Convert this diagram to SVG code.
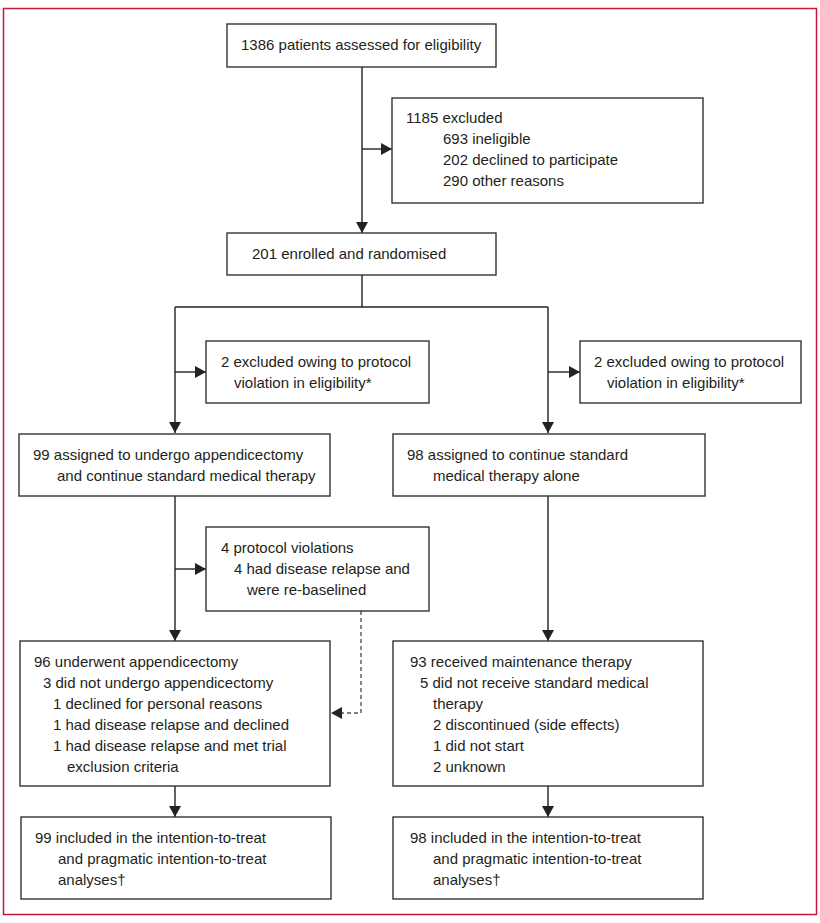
<svg xmlns="http://www.w3.org/2000/svg" width="820" height="923" viewBox="0 0 820 923">
<defs>
<style>
.box{fill:#fff;stroke:#333;stroke-width:1.4}
.t{font-family:"Liberation Sans",Arial,sans-serif;font-size:15px;fill:#231f20}
.ln{fill:none;stroke:#222;stroke-width:1.4}
.dash{fill:none;stroke:#555;stroke-width:1.4;stroke-dasharray:4 3}
</style>
<marker id="ah" viewBox="0 0 11 12" refX="11" refY="6" markerWidth="11" markerHeight="12" markerUnits="userSpaceOnUse" orient="auto">
<path d="M0,0 L11,6 L0,12 Z" fill="#222"/>
</marker>
</defs>
<rect x="0" y="0" width="820" height="923" fill="#fff"/>
<rect x="3.5" y="8.5" width="813" height="906" fill="none" stroke="#c8173c" stroke-width="1.5"/>

<g id="connectors">
<line class="ln" x1="362" y1="67" x2="362" y2="233" marker-end="url(#ah)"/>
<line class="ln" x1="362" y1="149" x2="392" y2="149" marker-end="url(#ah)"/>
<polyline class="ln" points="362,275 362,307"/>
<polyline class="ln" points="175,307 548,307"/>
<line class="ln" x1="175" y1="307" x2="175" y2="433" marker-end="url(#ah)"/>
<line class="ln" x1="175" y1="372" x2="206" y2="372" marker-end="url(#ah)"/>
<line class="ln" x1="548" y1="307" x2="548" y2="433" marker-end="url(#ah)"/>
<line class="ln" x1="548" y1="372" x2="580" y2="372" marker-end="url(#ah)"/>
<line class="ln" x1="175" y1="496" x2="175" y2="641" marker-end="url(#ah)"/>
<line class="ln" x1="175" y1="569" x2="206" y2="569" marker-end="url(#ah)"/>
<line class="ln" x1="548" y1="496" x2="548" y2="641" marker-end="url(#ah)"/>
<polyline class="dash" points="361,611 361,713 341,713"/>
<path d="M331,713 L342,707 L342,719 Z" fill="#222"/>
<line class="ln" x1="175" y1="786" x2="175" y2="817" marker-end="url(#ah)"/>
<line class="ln" x1="548" y1="786" x2="548" y2="817" marker-end="url(#ah)"/>
</g>

<g id="assessed">
<rect class="box" x="227" y="24" width="269" height="43"/>
<text class="t" x="241" y="50">1386 patients assessed for eligibility</text>
</g>

<g id="excluded">
<rect class="box" x="392" y="98" width="311" height="105"/>
<text class="t" x="406" y="123">1185 excluded</text>
<text class="t" x="443" y="144">693 ineligible</text>
<text class="t" x="443" y="165">202 declined to participate</text>
<text class="t" x="443" y="186">290 other reasons</text>
</g>

<g id="enrolled">
<rect class="box" x="227" y="233" width="269" height="42"/>
<text class="t" x="252" y="259">201 enrolled and randomised</text>
</g>

<g id="excl-left">
<rect class="box" x="206" y="341" width="223" height="62"/>
<text class="t" x="221" y="367">2 excluded owing to protocol</text>
<text class="t" x="234" y="388">violation in eligibility*</text>
</g>

<g id="excl-right">
<rect class="box" x="580" y="341" width="221" height="62"/>
<text class="t" x="594" y="367">2 excluded owing to protocol</text>
<text class="t" x="607" y="388">violation in eligibility*</text>
</g>

<g id="assigned-left">
<rect class="box" x="19" y="434" width="311" height="62"/>
<text class="t" x="33" y="460">99 assigned to undergo appendicectomy</text>
<text class="t" x="57" y="481">and continue standard medical therapy</text>
</g>

<g id="assigned-right">
<rect class="box" x="393" y="434" width="312" height="62"/>
<text class="t" x="407" y="460">98 assigned to continue standard</text>
<text class="t" x="433" y="481">medical therapy alone</text>
</g>

<g id="protocol">
<rect class="box" x="206" y="527" width="223" height="84"/>
<text class="t" x="221" y="553">4 protocol violations</text>
<text class="t" x="234" y="574">4 had disease relapse and</text>
<text class="t" x="247" y="595">were re-baselined</text>
</g>

<g id="appendicectomy">
<rect class="box" x="20" y="641" width="310" height="145"/>
<text class="t" x="34" y="667">96 underwent appendicectomy</text>
<text class="t" x="43" y="688">3 did not undergo appendicectomy</text>
<text class="t" x="53" y="709">1 declined for personal reasons</text>
<text class="t" x="53" y="730">1 had disease relapse and declined</text>
<text class="t" x="53" y="751">1 had disease relapse and met trial</text>
<text class="t" x="67" y="772">exclusion criteria</text>
</g>

<g id="maintenance">
<rect class="box" x="393" y="641" width="310" height="145"/>
<text class="t" x="410" y="667">93 received maintenance therapy</text>
<text class="t" x="420" y="688">5 did not receive standard medical</text>
<text class="t" x="433" y="709">therapy</text>
<text class="t" x="433" y="730">2 discontinued (side effects)</text>
<text class="t" x="433" y="751">1 did not start</text>
<text class="t" x="433" y="772">2 unknown</text>
</g>

<g id="itt-left">
<rect class="box" x="21" y="817" width="310" height="82"/>
<text class="t" x="35" y="843">99 included in the intention-to-treat</text>
<text class="t" x="58" y="864">and pragmatic intention-to-treat</text>
<text class="t" x="58" y="885">analyses†</text>
</g>

<g id="itt-right">
<rect class="box" x="393" y="817" width="310" height="82"/>
<text class="t" x="410" y="843">98 included in the intention-to-treat</text>
<text class="t" x="433" y="864">and pragmatic intention-to-treat</text>
<text class="t" x="433" y="885">analyses†</text>
</g>
</svg>
